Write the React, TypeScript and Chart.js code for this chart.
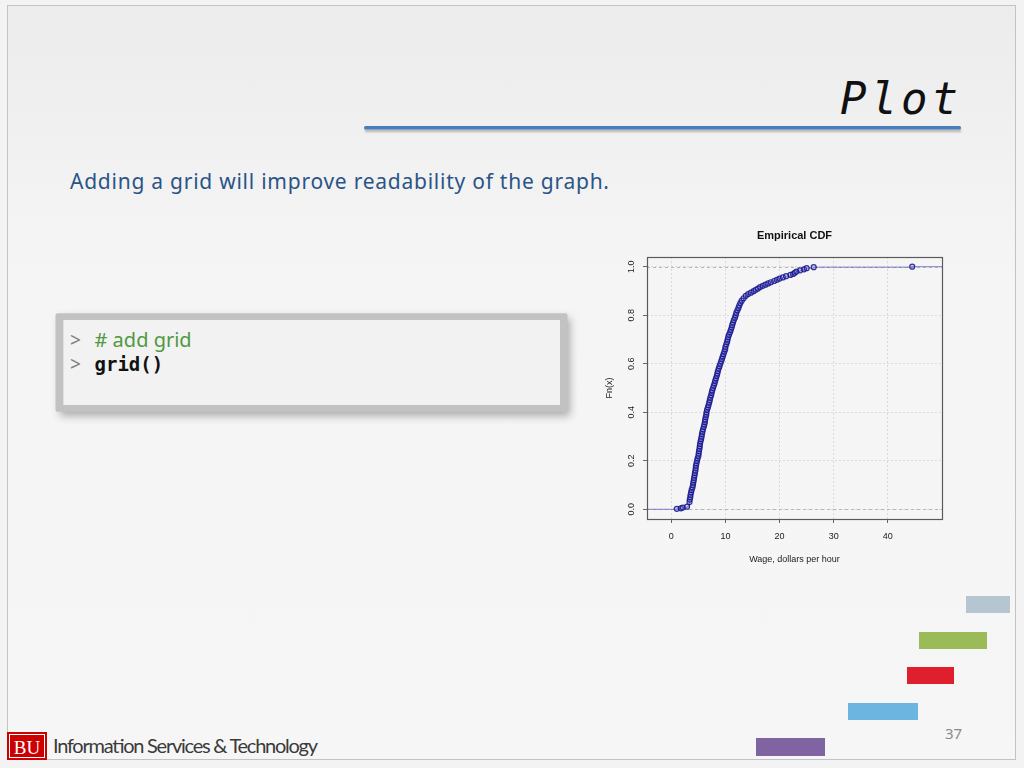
import React, { useEffect, useRef } from "react";
import { Chart, registerables } from "chart.js";

Chart.register(...registerables);

// ---- data (empirical CDF of hourly wages) ----
const wageValues = [
  1.0, 1.75, 2.1, 2.9, 3.35, 3.4, 3.5, 3.55, 3.65, 3.75, 3.9, 4.0, 4.05, 4.15, 4.2, 4.3, 4.35, 4.45,
  4.5, 4.55, 4.65, 4.75, 4.85, 5.0, 5.05, 5.1, 5.2, 5.25, 5.3, 5.4, 5.5, 5.6, 5.65, 5.75, 5.85, 6.0,
  6.1, 6.2, 6.25, 6.35, 6.45, 6.5, 6.6, 6.75, 6.88, 7.0, 7.1, 7.2, 7.35, 7.45, 7.55, 7.7, 7.85, 8.0,
  8.1, 8.25, 8.4, 8.5, 8.6, 8.75, 8.9, 9.05, 9.2, 9.35, 9.5, 9.65, 9.8, 9.95, 10.0, 10.15, 10.3, 10.4,
  10.5, 10.65, 10.85, 11.0, 11.15, 11.25, 11.4, 11.55, 11.75, 11.9, 12.0, 12.2, 12.4, 12.55, 12.75,
  13.0, 13.35, 13.75, 14.2, 14.7, 15.2, 15.6, 16.0, 16.4, 16.9, 17.4, 17.9, 18.4, 19.0, 19.5, 20.0,
  20.6, 21.2, 22.0, 22.5, 22.8, 23.1, 23.8, 24.5, 25.0, 26.3, 44.5,
];
const fnValues = [
  0.002, 0.004, 0.007, 0.011, 0.03, 0.04, 0.05, 0.06, 0.07, 0.08, 0.09, 0.1, 0.11, 0.12, 0.13, 0.14,
  0.15, 0.16, 0.17, 0.18, 0.19, 0.2, 0.21, 0.22, 0.23, 0.24, 0.25, 0.26, 0.27, 0.28, 0.29, 0.3, 0.31,
  0.32, 0.33, 0.34, 0.35, 0.36, 0.37, 0.38, 0.39, 0.4, 0.41, 0.42, 0.43, 0.44, 0.45, 0.46, 0.47, 0.48,
  0.49, 0.5, 0.51, 0.52, 0.53, 0.54, 0.55, 0.56, 0.57, 0.58, 0.59, 0.6, 0.61, 0.62, 0.63, 0.64, 0.65,
  0.66, 0.67, 0.68, 0.69, 0.7, 0.71, 0.72, 0.73, 0.74, 0.75, 0.76, 0.77, 0.78, 0.79, 0.8, 0.81, 0.82,
  0.83, 0.84, 0.85, 0.86, 0.87, 0.88, 0.887, 0.893, 0.899, 0.905, 0.91, 0.916, 0.921, 0.926, 0.931,
  0.936, 0.941, 0.946, 0.951, 0.956, 0.961, 0.966, 0.97, 0.975, 0.98, 0.985, 0.989, 0.994, 0.998, 1.0,
];
const xTickValues = [0, 10, 20, 30, 40];
const yTickValues = [0, 0.2, 0.4, 0.6, 0.8, 1.0];
const refLineValues = [0, 1];
const xRange = [-4.5, 50.0];
const yRange = [-0.04, 1.04];
const chartTitle = "Empirical CDF";
const xAxisTitle = "Wage, dollars per hour";
const yAxisTitle = "Fn(x)";

// ---- slide texts ----
const slideTitle = "Plot";
const slideSubtitle = "Adding a grid will improve readability of the graph.";
const codeComment = "# add grid";
const codeCall = "grid()";
const pageNumber = "37";
const footerText = "Information Services & Technology";

const FONT = '"Liberation Sans", Arial, Helvetica, sans-serif';

const framePlugin = {
  id: "rFrame",
  beforeDatasetsDraw(chart: any) {
    const { ctx, chartArea, scales } = chart;
    ctx.save();
    ctx.strokeStyle = "#b5b5b5";
    ctx.lineWidth = 1;
    ctx.setLineDash([3, 3]);
    refLineValues.forEach((v) => {
      const py = Math.round(scales.y.getPixelForValue(v)) + 0.5;
      ctx.beginPath();
      ctx.moveTo(chartArea.left, py);
      ctx.lineTo(chartArea.right, py);
      ctx.stroke();
    });
    ctx.restore();
  },
  afterDraw(chart: any) {
    const { ctx, chartArea } = chart;
    ctx.save();
    ctx.strokeStyle = "#5a5a5a";
    ctx.lineWidth = 1.2;
    ctx.strokeRect(
      Math.round(chartArea.left) + 0.5,
      Math.round(chartArea.top) + 0.5,
      Math.round(chartArea.right - chartArea.left),
      Math.round(chartArea.bottom - chartArea.top)
    );
    ctx.restore();
  },
};

export default function App() {
  const canvasRef = useRef<HTMLCanvasElement>(null);

  useEffect(() => {
    document.body.style.margin = "0";
    const points = wageValues.map((x, i) => ({ x, y: fnValues[i] }));
    const linePoints = [
      { x: xRange[0] - 2, y: 0 },
      ...points,
      { x: xRange[1] + 2, y: 1 },
    ];
    const chart = new Chart(canvasRef.current as HTMLCanvasElement, {
      type: "scatter",
      data: {
        datasets: [
          {
            type: "line",
            data: linePoints,
            borderColor: "rgba(110,110,200,0.85)",
            borderWidth: 1,
            pointRadius: 0,
            stepped: "before",
            fill: false,
            order: 2,
          } as any,
          {
            type: "scatter",
            data: points,
            pointRadius: 2.5,
            pointBorderWidth: 1.2,
            borderColor: "rgba(20,20,140,0.85)",
            backgroundColor: "rgba(110,110,210,0.3)",
            pointBorderColor: "rgba(20,20,140,0.85)",
            pointBackgroundColor: "rgba(110,110,210,0.3)",
            showLine: false,
            order: 1,
          } as any,
        ],
      },
      options: {
        responsive: false,
        animation: false,
        devicePixelRatio: 1,
        layout: { padding: { left: 0, right: 8, top: 0, bottom: 0 } },
        plugins: {
          legend: { display: false },
          tooltip: { enabled: false },
          title: {
            display: true,
            fullSize: false,
            text: chartTitle,
            color: "#111",
            font: { family: FONT, size: 11, weight: "bold", lineHeight: 1 },
            padding: { top: 10, bottom: 16 },
          },
        },
        scales: {
          x: {
            type: "linear",
            min: xRange[0],
            max: xRange[1],
            afterBuildTicks: (s: any) => {
              s.ticks = xTickValues.map((v) => ({ value: v }));
            },
            afterFit: (s: any) => {
              s.height = 61;
            },
            grid: {
              color: "#dadada",
              lineWidth: 1,
              drawTicks: true,
              tickLength: 4,
              tickColor: "#666",
              tickWidth: 1,
            },
            border: { display: false, dash: [2, 2] },
            ticks: {
              color: "#222",
              font: { family: FONT, size: 9 },
              padding: 8,
              maxRotation: 0,
              autoSkip: false,
              callback: (v: any) => String(v),
            },
            title: {
              display: true,
              text: xAxisTitle,
              color: "#222",
              font: { family: FONT, size: 9, lineHeight: 1 },
              padding: { top: 4, bottom: 16 },
            },
          },
          y: {
            type: "linear",
            min: yRange[0],
            max: yRange[1],
            afterBuildTicks: (s: any) => {
              s.ticks = yTickValues.map((v) => ({ value: v }));
            },
            afterFit: (s: any) => {
              s.width = 57;
            },
            grid: {
              color: "#dadada",
              lineWidth: 1,
              drawTicks: true,
              tickLength: 4,
              tickColor: "#666",
              tickWidth: 1,
            },
            border: { display: false, dash: [2, 2] },
            ticks: {
              color: "#222",
              font: { family: FONT, size: 9 },
              padding: 5,
              minRotation: 90,
              maxRotation: 90,
              crossAlign: "center",
              autoSkip: false,
              callback: (v: any) => Number(v).toFixed(1),
            },
            title: {
              display: true,
              text: yAxisTitle,
              color: "#222",
              font: { family: FONT, size: 9, lineHeight: 1 },
              padding: { top: 15.5, bottom: 0 },
            },
          },
        },
      } as any,
      plugins: [framePlugin],
    });
    return () => chart.destroy();
  }, []);

  const sans = '"Noto Sans", "Open Sans", sans-serif';
  const mono = '"DejaVu Sans Mono", "Liberation Mono", monospace';

  return (
    <div
      style={{
        position: "fixed",
        left: 0,
        top: 0,
        width: 1024,
        height: 768,
        overflow: "hidden",
        background: "#f3f3f3",
      }}
    >
      <svg
        width={1024}
        height={768}
        style={{ position: "absolute", left: 0, top: 0 }}
        xmlns="http://www.w3.org/2000/svg"
      >
        <defs>
          <linearGradient id="slideBg" x1="0" y1="0" x2="0" y2="1">
            <stop offset="0" stopColor="#ececec" />
            <stop offset="0.35" stopColor="#f5f5f5" />
            <stop offset="1" stopColor="#f6f6f6" />
          </linearGradient>
          <filter id="softShadow" x="-10%" y="-20%" width="120%" height="160%">
            <feGaussianBlur stdDeviation="4" />
          </filter>
          <filter id="lineShadow" x="-5%" y="-200%" width="110%" height="500%">
            <feGaussianBlur stdDeviation="1.2" />
          </filter>
        </defs>
        <rect x={7.5} y={5.5} width={1008} height={754} fill="url(#slideBg)" stroke="#c3c3c3" strokeWidth={1} />

        {/* title */}
        <text
          x={962}
          y={113.5}
          textAnchor="end"
          fontFamily={mono}
          fontStyle="italic"
          fontSize={44}
          letterSpacing={4}
          fill="#111"
        >
          {slideTitle}
        </text>
        <rect x={365} y={129} width={596} height={3} fill="rgba(0,0,0,0.25)" filter="url(#lineShadow)" />
        <rect x={364} y={126} width={597} height={3.5} rx={1.5} fill="#4a7ebb" />

        {/* subtitle */}
        <text x={70} y={189.3} fontFamily={sans} fontSize={21} fill="#2a5488" textLength={539}>
          {slideSubtitle}
        </text>

        {/* code box */}
        <rect x={60} y={318} width={510} height={98} fill="rgba(0,0,0,0.3)" filter="url(#softShadow)" />
        <rect x={55.5} y={313.3} width={512} height={98.4} rx={2} fill="#c2c2c2" />
        <rect x={63.4} y={320} width={496.6} height={85} fill="#f2f2f2" />
        <text x={70} y={346.7} fontFamily={sans} fontSize={19} fill="#7f7f7f">&gt;</text>
        <text x={94.5} y={346.7} fontFamily={sans} fontSize={20} fill="#4f993f">{codeComment}</text>
        <text x={70} y={370.5} fontFamily={sans} fontSize={19} fill="#7f7f7f">&gt;</text>
        <text x={94.5} y={370.5} fontFamily={mono} fontSize={19} fontWeight="bold" fill="#111">{codeCall}</text>

        {/* decorative bars */}
        <rect x={966} y={596} width={44} height={17} fill="#b6c6d0" />
        <rect x={919} y={632} width={68} height={17} fill="#9bbb59" />
        <rect x={907} y={667} width={47} height={17} fill="#df1f2d" />
        <rect x={848} y={703} width={70} height={17} fill="#6cb5e1" />
        <rect x={756} y={738} width={69} height={18} fill="#8064a2" />

        {/* page number */}
        <text x={945} y={738.5} fontFamily={sans} fontSize={15} fill="#8a8a8a">{pageNumber}</text>

        {/* footer */}
        <rect x={7} y={732} width={40} height={28} fill="#cc0000" />
        <rect x={9.5} y={734.5} width={35} height={23} fill="none" stroke="#ffffff" strokeWidth={1} />
        <text x={27} y={754} textAnchor="middle" fontFamily='"Liberation Serif", serif' fontSize={19} fill="#ffffff">
          BU
        </text>
        <text x={53} y={753} fontFamily='Lato, "Noto Sans", sans-serif' fontSize={20} fill="#3a3a3a" textLength={265}>
          {footerText}
        </text>
      </svg>
      <canvas
        ref={canvasRef}
        width={360}
        height={360}
        style={{ position: "absolute", left: 590, top: 220, width: 360, height: 360 }}
      />
    </div>
  );
}
